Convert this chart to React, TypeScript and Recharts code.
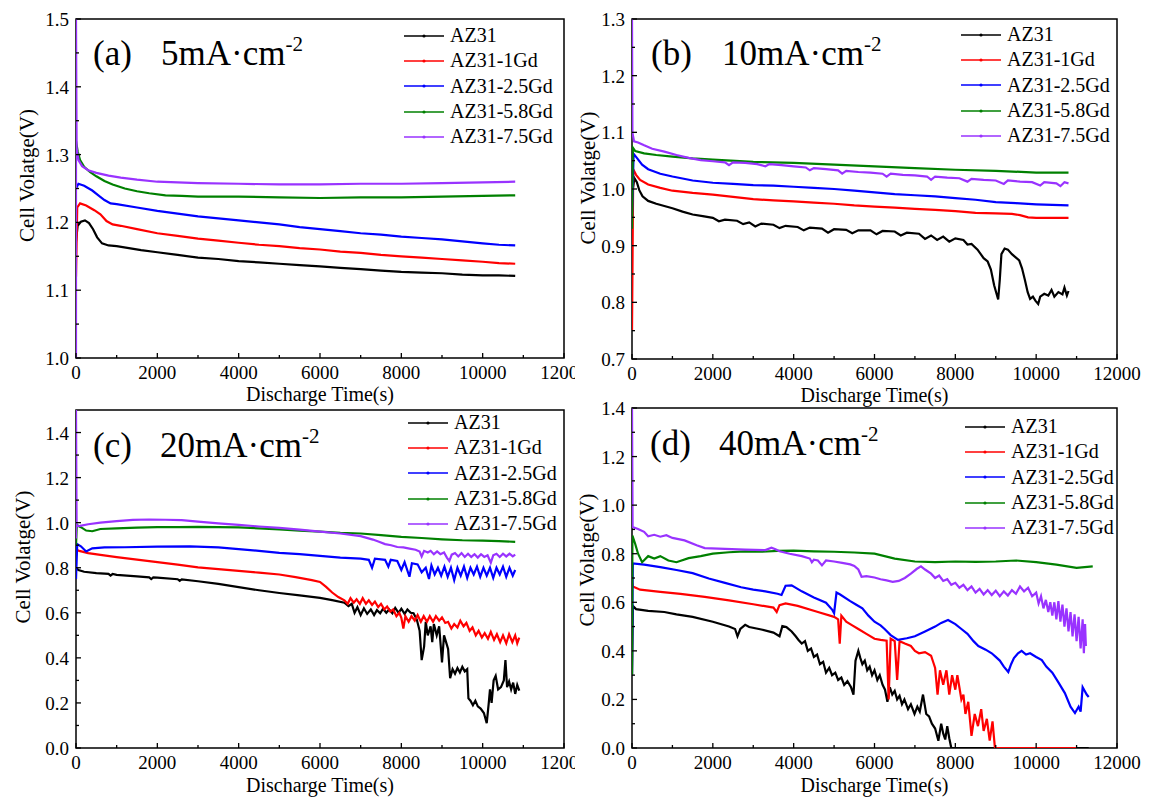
import { LineChart, Line, XAxis, YAxis, ReferenceArea, Legend } from 'recharts'

type Pt = [number, number]

const FONT = "'Liberation Serif', 'Times New Roman', Times, serif"

const SERIES_NAMES = ['AZ31', 'AZ31-1Gd', 'AZ31-2.5Gd', 'AZ31-5.8Gd', 'AZ31-7.5Gd']
const SERIES_COLORS = ['#000000', '#ff0000', '#0000ff', '#008000', '#9933ff']

const X_TICKS = [0, 1000, 2000, 3000, 4000, 5000, 6000, 7000, 8000, 9000, 10000, 11000, 12000]
const X_LABELED = [0, 2000, 4000, 6000, 8000, 10000, 12000]

const A_Y_TICKS = [1.0, 1.05, 1.1, 1.15, 1.2, 1.25, 1.3, 1.35, 1.4, 1.45, 1.5]
const A_Y_LABELED = [1.0, 1.1, 1.2, 1.3, 1.4, 1.5]
const B_Y_TICKS = [0.7, 0.75, 0.8, 0.85, 0.9, 0.95, 1.0, 1.05, 1.1, 1.15, 1.2, 1.25, 1.3]
const B_Y_LABELED = [0.7, 0.8, 0.9, 1.0, 1.1, 1.2, 1.3]
const CD_Y_TICKS = [0, 0.1, 0.2, 0.3, 0.4, 0.5, 0.6, 0.7, 0.8, 0.9, 1.0, 1.1, 1.2, 1.3, 1.4]
const CD_Y_LABELED = [0, 0.2, 0.4, 0.6, 0.8, 1.0, 1.2, 1.4]

// (a) 5 mA/cm2
const A_AZ31: Pt[] = [[0,1.172],[40,1.195],[120,1.201],[220,1.203],[320,1.199],[420,1.19],[520,1.178],[640,1.169],[800,1.166],[1000,1.165],[1300,1.162],[1600,1.159],[2000,1.156],[2500,1.152],[3000,1.148],[3500,1.146],[4000,1.143],[4500,1.141],[5000,1.139],[5500,1.137],[6000,1.135],[6500,1.133],[7000,1.131],[7500,1.129],[8000,1.127],[8500,1.126],[9000,1.125],[9500,1.123],[10000,1.122],[10400,1.122],[10800,1.121]]
const A_1GD: Pt[] = [[0,1.12],[30,1.222],[100,1.228],[250,1.225],[450,1.218],[600,1.212],[750,1.202],[900,1.197],[1100,1.195],[1500,1.19],[2000,1.184],[2500,1.18],[3000,1.176],[3500,1.173],[4000,1.17],[4500,1.167],[5000,1.165],[5500,1.162],[6000,1.16],[6500,1.157],[7000,1.155],[7500,1.152],[8000,1.15],[8500,1.148],[9000,1.146],[9500,1.144],[10000,1.142],[10400,1.14],[10800,1.139]]
const A_25GD: Pt[] = [[0,1.25],[60,1.257],[200,1.254],[400,1.247],[550,1.24],[700,1.233],[850,1.228],[1000,1.227],[1500,1.222],[2000,1.217],[2500,1.213],[3000,1.209],[3500,1.206],[4000,1.203],[4500,1.2],[5000,1.197],[5500,1.193],[6000,1.19],[6500,1.187],[7000,1.184],[7500,1.182],[8000,1.179],[8500,1.177],[9000,1.175],[9500,1.172],[10000,1.169],[10400,1.167],[10800,1.166]]
const A_58GD: Pt[] = [[0,1.32],[40,1.305],[100,1.292],[200,1.282],[350,1.274],[500,1.268],[700,1.261],[900,1.256],[1200,1.25],[1500,1.246],[1800,1.243],[2200,1.24],[2600,1.239],[3000,1.238],[4000,1.238],[5000,1.237],[6000,1.236],[7000,1.237],[8000,1.237],[9000,1.238],[10000,1.239],[10800,1.24]]
const A_75GD: Pt[] = [[0,1.0],[0,1.5],[15,1.31],[60,1.292],[150,1.283],[300,1.277],[500,1.273],[800,1.269],[1100,1.266],[1500,1.263],[2000,1.26],[3000,1.258],[4000,1.257],[5000,1.256],[6000,1.256],[7000,1.257],[8000,1.257],[9000,1.258],[10000,1.259],[10800,1.26]]

// (b) 10 mA/cm2
const B_AZ31: Pt[] = [[0,0.95],[20,1.0],[60,1.019],[120,1.012],[180,0.998],[260,0.987],[400,0.979],[600,0.974],[800,0.97],[1000,0.966],[1250,0.96],[1500,0.955],[1750,0.952],[2000,0.949],[2150,0.943],[2300,0.946],[2600,0.944],[2750,0.938],[2900,0.941],[3050,0.934],[3200,0.939],[3500,0.937],[3650,0.931],[3800,0.935],[4100,0.933],[4250,0.927],[4400,0.932],[4700,0.93],[4850,0.923],[5000,0.929],[5300,0.928],[5450,0.922],[5600,0.927],[5900,0.927],[6050,0.92],[6200,0.926],[6500,0.925],[6650,0.918],[6800,0.923],[7100,0.921],[7250,0.912],[7400,0.918],[7550,0.91],[7700,0.916],[7850,0.907],[8000,0.913],[8200,0.91],[8300,0.902],[8400,0.903],[8550,0.893],[8700,0.878],[8800,0.872],[8880,0.858],[8960,0.83],[9060,0.805],[9100,0.84],[9140,0.885],[9220,0.895],[9300,0.893],[9400,0.885],[9500,0.879],[9580,0.874],[9650,0.86],[9720,0.84],[9790,0.818],[9850,0.806],[9920,0.81],[9980,0.803],[10050,0.797],[10100,0.81],[10200,0.815],[10300,0.812],[10380,0.822],[10450,0.81],[10550,0.818],[10650,0.814],[10700,0.826],[10760,0.812],[10800,0.82]]
const B_1GD: Pt[] = [[0,0.75],[30,1.035],[100,1.025],[200,1.016],[400,1.008],[700,1.002],[1000,0.997],[1500,0.993],[2000,0.99],[2500,0.986],[3000,0.982],[3500,0.98],[4000,0.978],[4500,0.976],[5000,0.974],[5500,0.971],[6000,0.969],[6500,0.967],[7000,0.965],[7500,0.963],[8000,0.961],[8500,0.958],[9000,0.957],[9400,0.956],[9600,0.954],[9800,0.95],[10000,0.949],[10400,0.949],[10800,0.949]]
const B_25GD: Pt[] = [[0,0.95],[40,1.062],[120,1.055],[250,1.043],[400,1.035],[700,1.027],[1000,1.022],[1500,1.015],[2000,1.011],[2500,1.009],[3000,1.007],[3500,1.006],[4000,1.004],[4500,1.002],[5000,1.0],[5500,0.997],[6000,0.994],[6500,0.991],[7000,0.989],[7500,0.987],[8000,0.984],[8500,0.981],[9000,0.977],[9500,0.975],[10000,0.973],[10400,0.972],[10800,0.971]]
const B_58GD: Pt[] = [[0,0.93],[20,1.073],[80,1.067],[300,1.063],[600,1.06],[1000,1.057],[1500,1.054],[2000,1.052],[3000,1.048],[4000,1.046],[5000,1.043],[6000,1.04],[7000,1.037],[8000,1.034],[9000,1.032],[10000,1.029],[10800,1.029]]
const B_75GD: Pt[] = [[0,1.3],[10,1.1],[50,1.084],[150,1.082],[300,1.077],[500,1.071],[800,1.066],[1100,1.06],[1400,1.055],[1700,1.051],[2000,1.049],[2300,1.047],[2400,1.042],[2500,1.047],[2800,1.046],[3100,1.044],[3300,1.04],[3400,1.044],[3700,1.042],[4000,1.04],[4300,1.038],[4400,1.033],[4500,1.037],[4800,1.035],[5100,1.033],[5200,1.027],[5300,1.032],[5600,1.03],[5900,1.029],[6200,1.027],[6300,1.022],[6400,1.027],[6700,1.025],[7000,1.024],[7300,1.022],[7400,1.016],[7500,1.022],[7800,1.02],[8100,1.019],[8300,1.013],[8400,1.018],[8700,1.016],[9000,1.015],[9200,1.009],[9300,1.015],[9600,1.013],[9900,1.012],[10100,1.006],[10200,1.012],[10500,1.01],[10600,1.005],[10700,1.012],[10800,1.01]]

// (c) 20 mA/cm2
const C_AZ31: Pt[] = [[0,0.8],[60,0.79],[200,0.782],[500,0.776],[800,0.773],[850,0.765],[900,0.772],[1000,0.768],[1500,0.762],[1800,0.757],[1850,0.75],[1900,0.757],[2000,0.756],[2500,0.749],[2550,0.742],[2600,0.748],[3000,0.74],[3500,0.728],[4000,0.714],[4500,0.7],[5000,0.688],[5500,0.677],[6000,0.666],[6300,0.656],[6600,0.645],[6700,0.63],[6780,0.64],[6850,0.6],[6920,0.625],[7000,0.59],[7080,0.62],[7160,0.595],[7250,0.615],[7330,0.59],[7400,0.612],[7480,0.598],[7550,0.618],[7630,0.6],[7700,0.615],[7780,0.598],[7850,0.622],[7930,0.6],[8000,0.618],[8080,0.595],[8150,0.615],[8230,0.6],[8300,0.598],[8380,0.57],[8450,0.52],[8500,0.39],[8560,0.45],[8600,0.56],[8650,0.5],[8720,0.54],[8760,0.47],[8800,0.55],[8870,0.5],[8930,0.54],[8970,0.45],[9000,0.38],[9050,0.5],[9100,0.47],[9150,0.44],[9200,0.31],[9260,0.35],[9320,0.33],[9380,0.355],[9440,0.335],[9500,0.36],[9560,0.34],[9620,0.35],[9650,0.22],[9700,0.21],[9760,0.19],[9820,0.21],[9880,0.185],[9950,0.175],[10030,0.155],[10100,0.11],[10150,0.2],[10180,0.26],[10220,0.2],[10270,0.3],[10320,0.32],[10380,0.26],[10450,0.27],[10520,0.3],[10560,0.39],[10600,0.27],[10650,0.295],[10700,0.26],[10750,0.29],[10800,0.24],[10850,0.28],[10900,0.255]]
const C_1GD: Pt[] = [[0,0.88],[80,0.875],[300,0.865],[600,0.857],[1000,0.847],[1500,0.836],[2000,0.825],[2500,0.814],[3000,0.802],[3500,0.794],[4000,0.786],[4500,0.778],[5000,0.77],[5400,0.758],[5800,0.745],[6000,0.737],[6150,0.715],[6300,0.69],[6450,0.67],[6600,0.655],[6680,0.64],[6750,0.665],[6830,0.645],[6900,0.66],[6980,0.64],[7050,0.665],[7130,0.64],[7200,0.655],[7280,0.635],[7350,0.65],[7430,0.625],[7500,0.64],[7580,0.615],[7650,0.628],[7730,0.605],[7800,0.615],[7880,0.585],[7950,0.6],[8000,0.578],[8050,0.53],[8100,0.585],[8180,0.56],[8250,0.585],[8330,0.565],[8400,0.59],[8480,0.56],[8550,0.585],[8630,0.56],[8700,0.585],[8780,0.56],[8850,0.585],[8930,0.565],[9000,0.58],[9080,0.555],[9150,0.56],[9230,0.53],[9300,0.55],[9380,0.535],[9450,0.565],[9530,0.54],[9600,0.555],[9680,0.52],[9750,0.535],[9830,0.5],[9900,0.52],[9980,0.49],[10050,0.51],[10130,0.485],[10200,0.515],[10280,0.48],[10350,0.505],[10430,0.47],[10500,0.5],[10580,0.465],[10650,0.505],[10730,0.47],[10800,0.5],[10850,0.465],[10900,0.49]]
const C_25GD: Pt[] = [[0,0.75],[30,0.905],[120,0.895],[250,0.872],[400,0.886],[700,0.89],[1200,0.891],[2000,0.894],[2800,0.895],[3500,0.89],[4000,0.883],[4500,0.875],[5000,0.866],[5500,0.86],[6000,0.853],[6500,0.845],[7000,0.84],[7200,0.835],[7280,0.8],[7350,0.84],[7600,0.835],[7680,0.805],[7740,0.835],[7900,0.83],[8000,0.79],[8080,0.825],[8200,0.76],[8260,0.82],[8400,0.815],[8500,0.78],[8600,0.8],[8680,0.75],[8740,0.81],[8820,0.77],[8900,0.8],[8980,0.765],[9060,0.805],[9140,0.76],[9220,0.8],[9300,0.745],[9380,0.8],[9460,0.765],[9540,0.805],[9620,0.755],[9700,0.8],[9780,0.77],[9860,0.805],[9940,0.76],[10020,0.8],[10100,0.765],[10180,0.8],[10260,0.755],[10340,0.8],[10420,0.77],[10500,0.805],[10580,0.76],[10660,0.8],[10740,0.765],[10800,0.79]]
const C_58GD: Pt[] = [[0,0.9],[20,0.99],[120,0.98],[250,0.965],[400,0.962],[600,0.972],[1000,0.975],[1500,0.978],[2000,0.98],[2500,0.98],[3000,0.981],[3500,0.98],[4000,0.979],[4500,0.975],[5000,0.97],[5500,0.965],[6000,0.96],[6500,0.955],[7000,0.952],[7500,0.945],[8000,0.937],[8500,0.932],[9000,0.926],[9500,0.922],[10000,0.92],[10400,0.918],[10800,0.915]]
const C_75GD: Pt[] = [[0,0.93],[0,1.5],[15,0.985],[100,0.986],[300,0.993],[600,1.0],[1000,1.007],[1400,1.012],[1800,1.014],[2200,1.013],[2600,1.011],[3000,1.005],[3500,0.997],[4000,0.99],[4500,0.983],[5000,0.977],[5500,0.969],[6000,0.96],[6500,0.952],[7000,0.94],[7300,0.925],[7450,0.915],[7600,0.905],[7750,0.9],[7900,0.892],[8050,0.89],[8200,0.885],[8350,0.88],[8450,0.872],[8500,0.85],[8560,0.875],[8650,0.868],[8720,0.875],[8800,0.86],[8880,0.872],[8960,0.86],[9050,0.868],[9120,0.845],[9180,0.83],[9240,0.858],[9320,0.865],[9400,0.85],[9480,0.865],[9560,0.848],[9640,0.862],[9720,0.848],[9800,0.86],[9880,0.845],[9960,0.86],[10040,0.848],[10120,0.855],[10200,0.822],[10260,0.855],[10340,0.862],[10420,0.848],[10500,0.862],[10580,0.85],[10660,0.862],[10740,0.85],[10800,0.858]]

// (d) 40 mA/cm2
const D_AZ31: Pt[] = [[0,0.3],[20,0.585],[100,0.572],[400,0.565],[800,0.56],[1100,0.55],[1500,0.54],[2000,0.52],[2400,0.5],[2550,0.49],[2610,0.46],[2680,0.49],[2800,0.507],[2900,0.498],[3200,0.488],[3500,0.475],[3650,0.46],[3720,0.502],[3820,0.498],[3950,0.48],[4050,0.46],[4120,0.445],[4200,0.43],[4280,0.44],[4350,0.4],[4430,0.41],[4500,0.375],[4580,0.385],[4650,0.345],[4730,0.355],[4800,0.31],[4880,0.33],[4950,0.3],[5030,0.31],[5100,0.28],[5180,0.29],[5250,0.26],[5330,0.275],[5420,0.25],[5480,0.22],[5530,0.36],[5600,0.4],[5650,0.37],[5700,0.345],[5760,0.36],[5820,0.32],[5880,0.335],[5940,0.3],[6000,0.32],[6070,0.28],[6130,0.3],[6200,0.26],[6260,0.24],[6320,0.19],[6380,0.25],[6440,0.22],[6500,0.235],[6560,0.2],[6620,0.215],[6680,0.18],[6740,0.2],[6830,0.16],[6900,0.18],[6990,0.14],[7060,0.17],[7120,0.15],[7200,0.22],[7280,0.14],[7350,0.13],[7420,0.1],[7500,0.08],[7580,0.03],[7650,0.1],[7700,0.06],[7750,0.035],[7800,0.09],[7850,0.04],[7900,0.0],[11300,0.0]]
const D_1GD: Pt[] = [[0,0.68],[20,0.665],[200,0.652],[700,0.643],[1200,0.635],[1800,0.622],[2400,0.608],[3000,0.592],[3500,0.578],[3580,0.56],[3650,0.588],[3800,0.595],[4100,0.585],[4600,0.56],[5000,0.54],[5100,0.53],[5140,0.43],[5180,0.545],[5300,0.52],[5450,0.505],[5600,0.49],[5800,0.47],[6000,0.45],[6150,0.445],[6300,0.442],[6350,0.2],[6400,0.45],[6500,0.44],[6560,0.28],[6620,0.44],[6750,0.43],[6900,0.42],[7000,0.4],[7100,0.39],[7250,0.395],[7400,0.38],[7460,0.35],[7500,0.33],[7560,0.22],[7620,0.32],[7700,0.26],[7780,0.32],[7850,0.22],[7920,0.3],[8000,0.24],[8050,0.3],[8100,0.25],[8150,0.2],[8200,0.22],[8250,0.14],[8320,0.19],[8400,0.05],[8480,0.14],[8560,0.09],[8640,0.16],[8700,0.07],[8780,0.12],[8850,0.03],[8920,0.11],[8980,0.0],[11000,0.0]]
const D_25GD: Pt[] = [[0,0.3],[20,0.76],[300,0.755],[700,0.745],[1100,0.733],[1500,0.72],[1900,0.698],[2300,0.68],[2700,0.662],[3000,0.652],[3300,0.645],[3600,0.635],[3700,0.63],[3800,0.668],[3950,0.67],[4200,0.645],[4500,0.62],[4800,0.598],[4950,0.57],[5000,0.555],[5060,0.64],[5150,0.632],[5400,0.605],[5550,0.59],[5700,0.575],[5850,0.545],[6000,0.52],[6150,0.505],[6250,0.49],[6400,0.465],[6580,0.445],[6800,0.452],[7000,0.46],[7250,0.48],[7500,0.5],[7650,0.515],[7820,0.527],[8000,0.51],[8150,0.49],[8300,0.47],[8450,0.44],[8570,0.42],[8750,0.405],[8900,0.39],[9000,0.375],[9100,0.36],[9200,0.335],[9310,0.313],[9380,0.345],[9450,0.37],[9550,0.39],[9640,0.4],[9750,0.385],[9850,0.39],[10000,0.375],[10140,0.362],[10250,0.335],[10400,0.31],[10550,0.27],[10710,0.226],[10850,0.17],[10960,0.144],[11050,0.17],[11100,0.15],[11150,0.25],[11250,0.22],[11300,0.21]]
const D_58GD: Pt[] = [[0,0.3],[10,0.875],[80,0.84],[150,0.8],[250,0.765],[400,0.79],[550,0.78],[700,0.79],[900,0.772],[1100,0.765],[1400,0.782],[1700,0.79],[2000,0.8],[2400,0.806],[2800,0.81],[3200,0.808],[3600,0.812],[4000,0.813],[4500,0.81],[5000,0.808],[5500,0.805],[6000,0.8],[6500,0.78],[7000,0.768],[7500,0.765],[8000,0.768],[8500,0.766],[9000,0.768],[9500,0.772],[10000,0.765],[10500,0.755],[11000,0.742],[11400,0.748]]
const D_75GD: Pt[] = [[0,1.4],[15,0.91],[150,0.902],[300,0.89],[400,0.872],[550,0.878],[700,0.87],[850,0.876],[1000,0.865],[1300,0.855],[1600,0.835],[1800,0.823],[2300,0.82],[2800,0.817],[3300,0.815],[3450,0.825],[3550,0.818],[3650,0.81],[3900,0.8],[4200,0.79],[4400,0.78],[4450,0.765],[4500,0.775],[4600,0.772],[4700,0.752],[4800,0.772],[5000,0.768],[5200,0.762],[5400,0.756],[5500,0.75],[5600,0.735],[5680,0.705],[5800,0.708],[6000,0.702],[6150,0.695],[6300,0.69],[6450,0.684],[6600,0.688],[6750,0.7],[6900,0.718],[7050,0.738],[7150,0.748],[7250,0.735],[7400,0.718],[7500,0.7],[7600,0.71],[7700,0.688],[7800,0.695],[7900,0.672],[8000,0.68],[8100,0.66],[8200,0.672],[8300,0.65],[8400,0.665],[8500,0.64],[8600,0.655],[8700,0.632],[8800,0.65],[8900,0.63],[9000,0.648],[9100,0.625],[9200,0.645],[9300,0.628],[9400,0.65],[9500,0.635],[9600,0.665],[9700,0.645],[9800,0.66],[9900,0.625],[10000,0.64],[10060,0.595],[10120,0.625],[10180,0.575],[10240,0.61],[10300,0.56],[10350,0.6],[10400,0.545],[10450,0.6],[10500,0.53],[10550,0.605],[10600,0.52],[10650,0.59],[10700,0.5],[10750,0.575],[10800,0.48],[10850,0.56],[10900,0.46],[10950,0.55],[11000,0.44],[11050,0.54],[11100,0.41],[11150,0.53],[11180,0.39],[11210,0.51],[11230,0.42]]

const PANELS = [
  { id: 'a', tag: '(a)', current: '5mA·cm', series: [A_AZ31, A_1GD, A_25GD, A_58GD, A_75GD], yDomain: [1.0, 1.5], yTicks: A_Y_TICKS, yLabeled: A_Y_LABELED,
    left: 0, top: 0, height: 410, margin: { top: 19, right: 11, bottom: 22, left: 26 },
    legend: { left: 404, top: 23 }, tagX: [93, 161], tagY: 65, yTitle: { dx: 49, dy: -13 }, xTitleGap: 43 },
  { id: 'b', tag: '(b)', current: '10mA·cm', series: [B_AZ31, B_1GD, B_25GD, B_58GD, B_75GD], yDomain: [0.7, 1.3], yTicks: B_Y_TICKS, yLabeled: B_Y_LABELED,
    left: 575, top: 0, height: 410, margin: { top: 19, right: 33, bottom: 21, left: 7 },
    legend: { left: 386, top: 22 }, tagX: [651, 722], tagY: 65, yTitle: { dx: 44, dy: -11 }, xTitleGap: 43 },
  { id: 'c', tag: '(c)', current: '20mA·cm', series: [C_AZ31, C_1GD, C_25GD, C_58GD, C_75GD], yDomain: [0, 1.5], yTicks: CD_Y_TICKS, yLabeled: CD_Y_LABELED,
    left: 0, top: 398, height: 401, margin: { top: 12, right: 11, bottom: 21, left: 26 },
    legend: { left: 408, top: 12 }, tagX: [93, 160], tagY: 457, yTitle: { dx: 53, dy: -22 }, xTitleGap: 44 },
  { id: 'd', tag: '(d)', current: '40mA·cm', series: [D_AZ31, D_1GD, D_25GD, D_58GD, D_75GD], yDomain: [0, 1.4], yTicks: CD_Y_TICKS, yLabeled: CD_Y_LABELED,
    left: 575, top: 398, height: 401, margin: { top: 10, right: 33, bottom: 21, left: 7 },
    legend: { left: 390, top: 16 }, tagX: [650, 719], tagY: 455, yTitle: { dx: 45, dy: -18 }, xTitleGap: 44 },
]

const Y_AXIS_W = 50
const X_AXIS_H = 30
const CHART_W = 575

const toRows = (pts: Pt[]) => pts.map(([t, v]) => ({ t, v }))

const textStyle = { fontFamily: FONT }

const XTick = (props: any) => {
  const { x, y, payload } = props
  const major = X_LABELED.includes(payload.value)
  return (
    <g>
      <line x1={x} x2={x} y1={y} y2={y - (major ? 5 : 3)} stroke="#000" strokeWidth={1.3} />
      {major && (
        <text x={x} y={y + 21} textAnchor="middle" fontSize={19} style={textStyle} fill="#000">
          {payload.value}
        </text>
      )}
    </g>
  )
}

const makeYTick = (labeled: number[]) => (props: any) => {
  const { x, y, payload } = props
  const major = labeled.includes(payload.value)
  return (
    <g>
      <line x1={x} x2={x + (major ? 5 : 3)} y1={y} y2={y} stroke="#000" strokeWidth={1.3} />
      {major && (
        <text x={x - 7} y={y + 7} textAnchor="end" fontSize={19} style={textStyle} fill="#000">
          {payload.value.toFixed(1)}
        </text>
      )}
    </g>
  )
}

const renderLegend = (props: any) => (
  <div style={{ fontFamily: FONT, fontSize: 20, color: '#000' }}>
    {(props.payload || []).map((e: any) => (
      <div key={e.value} style={{ display: 'flex', alignItems: 'center', height: 25.3, whiteSpace: 'nowrap' }}>
        <svg width={46} height={10} style={{ flexShrink: 0 }}>
          <line x1={0} x2={40} y1={5} y2={5} stroke={e.color} strokeWidth={1.5} />
          <circle cx={20} cy={5} r={1.6} fill={e.color} />
        </svg>
        <span>{e.value}</span>
      </div>
    ))}
  </div>
)

function Panel({ p }: { p: (typeof PANELS)[number] }) {
  const plotLeft = p.margin.left + Y_AXIS_W
  const plotTop = p.margin.top
  const plotH = p.height - p.margin.top - p.margin.bottom - X_AXIS_H
  const plotW = CHART_W - plotLeft - p.margin.right

  const yTitle = () => {
    const cx = plotLeft - p.yTitle.dx
    const cy = plotTop + plotH / 2 + p.yTitle.dy
    return (
      <text x={cx} y={cy} transform={`rotate(-90 ${cx} ${cy})`} textAnchor="middle" dominantBaseline="central"
        fontSize={21} style={textStyle} fill="#000">Cell Volatge(V)</text>
    )
  }
  const xTitle = () => (
    <text x={plotLeft + plotW / 2} y={plotTop + plotH + p.xTitleGap} textAnchor="middle"
      fontSize={20} style={textStyle} fill="#000">Discharge Time(s)</text>
  )

  return (
    <div style={{ position: 'absolute', left: p.left, top: p.top }}>
      <LineChart width={CHART_W} height={p.height} margin={p.margin}>
        <XAxis dataKey="t" type="number" domain={[0, 12000]} ticks={X_TICKS} interval={0} allowDataOverflow
          height={X_AXIS_H} axisLine={false} tickLine={false} tickSize={0} tickMargin={0} tick={XTick}
          label={{ content: xTitle }} />
        <YAxis type="number" domain={p.yDomain} ticks={p.yTicks} interval={0} allowDataOverflow
          width={Y_AXIS_W} axisLine={false} tickLine={false} tickSize={0} tickMargin={0} tick={makeYTick(p.yLabeled)}
          label={{ content: yTitle }} />
        <ReferenceArea x1={0} x2={12000} y1={p.yDomain[0]} y2={p.yDomain[1]} fill="none" stroke="#000" strokeWidth={1.5} />
        {p.series.map((s, i) => (
          <Line key={SERIES_NAMES[i]} data={toRows(s)} dataKey="v" name={SERIES_NAMES[i]} type="linear"
            stroke={SERIES_COLORS[i]} strokeWidth={2.2} dot={false} isAnimationActive={false} />
        ))}
        <Legend layout="vertical" align="center" verticalAlign="middle" content={renderLegend}
          wrapperStyle={{ left: p.legend.left, top: p.legend.top, width: 'auto' }} />
      </LineChart>
    </div>
  )
}

export default function App() {
  const [a, b, c, d] = PANELS
  return (
    <div style={{ position: 'absolute', left: 0, top: 0, width: 1150, height: 799, background: '#fff', overflow: 'hidden', fontFamily: FONT }}>
      <Panel p={a} />
      <Panel p={c} />
      <div style={{ position: 'absolute', left: 575, top: 0, width: 575, height: 400, background: '#fff' }} />
      <div style={{ position: 'absolute', left: 575, top: 404, width: 575, height: 395, background: '#fff' }} />
      <Panel p={b} />
      <Panel p={d} />
      <svg width={1150} height={799} style={{ position: 'absolute', left: 0, top: 0, pointerEvents: 'none' }}>
        {PANELS.map((p) => (
          <g key={p.id} style={textStyle} fill="#000">
            <text x={p.tagX[0]} y={p.tagY} fontSize={35}>{p.tag}</text>
            <text x={p.tagX[1]} y={p.tagY} fontSize={35}>
              {p.current}
              <tspan dy={-14} fontSize={21}>-2</tspan>
            </text>
          </g>
        ))}
      </svg>
    </div>
  )
}
